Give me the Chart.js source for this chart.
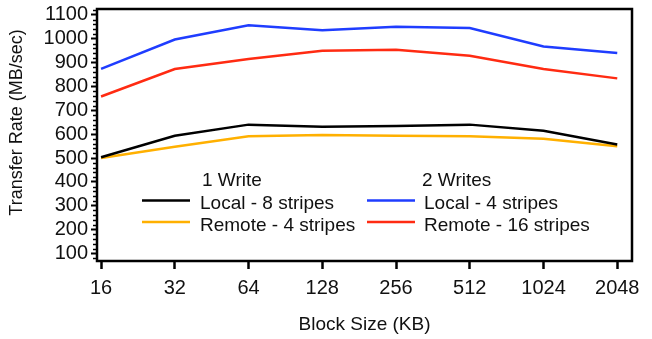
<!DOCTYPE html>
<html lang="en">
<head>
<meta charset="UTF-8">
<title>Transfer Rate vs Block Size</title>
<script src="https://cdn.jsdelivr.net/npm/chart.js@4"></script>
<style>
    html, body { margin: 0; padding: 0; background: #fff; }
    .chart-container { position: relative; width: 652px; height: 339px; }
</style>
</head>
<body>
<div class="chart-container"><canvas id="rateChart"></canvas></div>
<script>
// Block sizes (KB) along the x axis
const blockSizes = ['16', '32', '64', '128', '256', '512', '1024', '2048'];
const yTicks = [100, 200, 300, 400, 500, 600, 700, 800, 900, 1000, 1100];

// Transfer rate (MB/sec)
const oneWriteLocal8 = [503, 593, 640, 631, 634, 640, 614, 557];
const oneWriteRemote4 = [500, 547, 591, 596, 593, 591, 581, 549];
const twoWritesLocal4 = [874, 997, 1057, 1036, 1051, 1045, 968, 940];
const twoWritesRemote16 = [758, 873, 915, 950, 954, 929, 873, 834];

const legendHeaders = ['1 Write', '2 Writes'];

const FONT = "'Liberation Sans', Arial, sans-serif";

const toPoints = arr => arr.map((v, i) => ({ x: i, y: v }));

// frame, minor ticks, y title and the two-column legend
const extras = {
    id: 'extras',
    afterDatasetsDraw(chart) {
        const { ctx, chartArea: a, scales: { y } } = chart;
        ctx.save();
        ctx.strokeStyle = '#000';

        // minor ticks every 20
        ctx.lineWidth = 1.5;
        for (let v = Math.ceil(y.min / 20) * 20; v <= y.max; v += 20) {
            if (v % 100 === 0) continue;
            const py = Math.round(y.getPixelForValue(v)) + 0.5;
            ctx.beginPath();
            ctx.moveTo(a.left - 4, py);
            ctx.lineTo(a.left, py);
            ctx.stroke();
        }

        // box around plot
        ctx.lineWidth = 2.5;
        ctx.strokeRect(a.left, a.top, a.right - a.left, a.bottom - a.top);

        // y title
        ctx.fillStyle = '#111';
        ctx.font = '18px ' + FONT;
        ctx.textAlign = 'center';
        ctx.textBaseline = 'middle';
        ctx.translate(17.5, (a.top + a.bottom) / 2 - 12.5);
        ctx.rotate(-Math.PI / 2);
        ctx.fillText('Transfer Rate (MB/sec)', 0, 0);
        ctx.setTransform(1, 0, 0, 1, 0, 0);

        // legend
        ctx.font = '19px ' + FONT;
        ctx.textAlign = 'left';
        ctx.textBaseline = 'alphabetic';
        const cols = [
            { line: a.left + 45, text: a.left + 103, head: a.left + 105, sets: [0, 1] },
            { line: a.left + 270, text: a.left + 327, head: a.left + 325, sets: [2, 3] }
        ];
        const headBase = a.top + 176.5;
        const rowBase = [a.top + 200, a.top + 221.5];
        cols.forEach((c, ci) => {
            ctx.fillStyle = '#111';
            ctx.fillText(legendHeaders[ci], c.head, headBase);
            c.sets.forEach((di, ri) => {
                const ds = chart.data.datasets[di];
                ctx.strokeStyle = ds.borderColor;
                ctx.lineWidth = 2.5;
                ctx.beginPath();
                ctx.moveTo(c.line, rowBase[ri] - 8.5);
                ctx.lineTo(c.line + 48, rowBase[ri] - 8.5);
                ctx.stroke();
                ctx.fillStyle = '#111';
                ctx.fillText(ds.label, c.text, rowBase[ri]);
            });
        });
        ctx.restore();
    }
};

const ctx = document.getElementById('rateChart').getContext('2d');
new Chart(ctx, {
    type: 'line',
    data: {
        datasets: [
            { label: 'Local - 8 stripes', data: toPoints(oneWriteLocal8), borderColor: '#000000' },
            { label: 'Remote - 4 stripes', data: toPoints(oneWriteRemote4), borderColor: '#ffb000' },
            { label: 'Local - 4 stripes', data: toPoints(twoWritesLocal4), borderColor: '#1f3dff' },
            { label: 'Remote - 16 stripes', data: toPoints(twoWritesRemote16), borderColor: '#ff2b12' }
        ]
    },
    options: {
        responsive: true,
        maintainAspectRatio: false,
        animation: false,
        layout: { padding: { top: 9, right: 20, left: 0, bottom: 0 } },
        elements: {
            line: { borderWidth: 2.5, tension: 0, fill: false },
            point: { radius: 0, hoverRadius: 0 }
        },
        plugins: { legend: { display: false }, tooltip: { enabled: false } },
        scales: {
            x: {
                type: 'linear',
                min: -0.055,
                max: 7.2,
                afterBuildTicks: s => { s.ticks = blockSizes.map((_, i) => ({ value: i })); },
                afterFit: s => {
                    s.height = 78;
                    s.paddingLeft = 0;
                    s.paddingRight = 0;
                },
                ticks: {
                    callback: v => blockSizes[v],
                    color: '#111',
                    font: { family: FONT, size: 20 },
                    padding: 7,
                    maxRotation: 0,
                    autoSkip: false
                },
                grid: { drawOnChartArea: false, tickLength: 8, tickWidth: 2.5, tickColor: '#000' },
                border: { display: false },
                title: {
                    display: true,
                    text: 'Block Size (KB)',
                    color: '#111',
                    font: { family: FONT, size: 19 },
                    padding: { top: 0, bottom: 3 }
                }
            },
            y: {
                min: 68,
                max: 1125,
                afterBuildTicks: s => { s.ticks = yTicks.map(v => ({ value: v })); },
                afterFit: s => {
                    s.width = 97;
                    s.paddingTop = 0;
                    s.paddingBottom = 0;
                },
                ticks: {
                    callback: v => String(v),
                    color: '#111',
                    font: { family: FONT, size: 20 },
                    padding: 3,
                    autoSkip: false
                },
                grid: { drawOnChartArea: false, tickLength: 6, tickWidth: 2, tickColor: '#000' },
                border: { display: false }
            }
        }
    },
    plugins: [extras]
});
</script>
</body>
</html>
